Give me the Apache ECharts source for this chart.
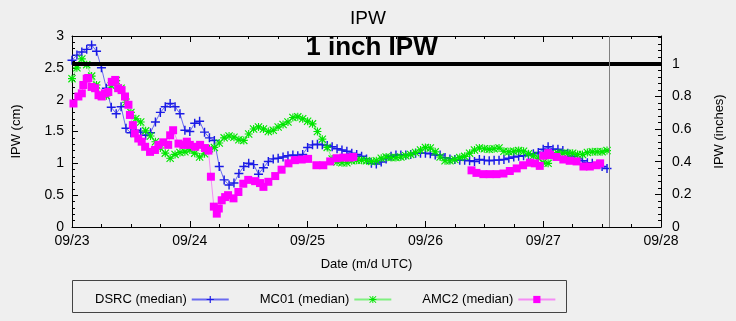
<!DOCTYPE html>
<html><head><meta charset="utf-8">
<script src="https://cdn.jsdelivr.net/npm/echarts@6/dist/echarts.min.js"></script>
<style>html,body{margin:0;padding:0;background:#efefef}#c{width:736px;height:321px}</style>
</head><body><div id="c"></div>
<script>
// x axis is hours since 09/23 00:00 UTC
const dateLabels = ['09/23','09/24','09/25','09/26','09/27','09/28'];
const seriesNames = ['DSRC (median)','MC01 (median)','AMC2 (median)'];

// hourly values starting at hour 0 (cm)
const dsrc = [2.62,2.70,2.75,2.79,2.86,2.76,2.50,2.18,1.88,1.78,
 1.89,1.55,1.48,1.52,1.49,1.44,1.48,1.65,1.80,1.89,
 1.94,1.89,1.78,1.52,1.50,1.63,1.66,1.49,1.40,1.36,
 0.95,0.74,0.66,0.69,0.84,0.95,1.00,0.98,0.83,0.93,
 1.03,1.07,1.08,1.10,1.12,1.13,1.12,1.14,1.25,1.29,
 1.30,1.29,1.28,1.26,1.23,1.21,1.19,1.16,1.14,1.11,
 1.07,1.00,0.99,1.02,1.07,1.11,1.13,1.13,1.13,1.14,
 1.16,1.16,1.16,1.15,1.13,1.13,1.09,1.07,1.06,1.05,
 1.05,1.04,1.03,1.06,1.05,1.04,1.05,1.05,1.06,1.08,
 1.10,1.11,1.12,1.13,1.15,1.17,1.22,1.26,1.22,1.22,
 1.20,1.16,1.11,1.07,1.04,1.01,1.00,0.98,0.95,0.92];

const mc01 = [2.33,2.50,2.64,2.55,2.37,2.23,2.06,2.06,2.22,2.30,
 2.18,1.96,1.80,1.70,1.65,1.51,1.43,1.34,1.24,1.16,
 1.08,1.14,1.17,1.18,1.21,1.16,1.10,1.15,1.23,1.25,
 1.32,1.40,1.43,1.41,1.37,1.36,1.46,1.54,1.57,1.54,
 1.50,1.52,1.57,1.61,1.65,1.72,1.73,1.70,1.66,1.62,
 1.50,1.38,1.25,1.07,1.02,1.01,1.01,1.04,1.05,1.05,
 1.04,1.03,1.04,1.08,1.10,1.09,1.09,1.10,1.12,1.14,
 1.17,1.21,1.25,1.24,1.18,1.10,1.04,1.04,1.06,1.09,
 1.11,1.16,1.21,1.24,1.23,1.22,1.23,1.24,1.19,1.18,
 1.19,1.20,1.19,1.15,1.12,1.08,1.01,1.00,1.14,1.16,
 1.16,1.16,1.16,1.14,1.14,1.17,1.18,1.18,1.18,1.20];

// AMC2 has irregular times (hours) and a data gap
const amc2Hours = [0.3,1.3,2.0,2.3,3.0,3.3,4.0,4.7,5.4,6.05,6.7,7.4,8.1,8.8,9.4,10.1,10.8,11.5,11.8,12.4,12.8,13.5,14.2,14.9,15.9,16.9,17.6,18.6,19.6,20.0,20.6,21.7,22.7,23.4,24.0,25.1,26.1,27.1,27.8,28.3,28.9,29.5,29.9,30.5,31.2,31.8,32.9,33.9,34.9,35.9,37.3,38.3,39.0,40.0,41.4,42.7,44.1,45.4,46.8,48.1,49.8,51.2,52.6,53.9,55.3,56.6,57.3,
 70,
 81.4,82.4,83.8,85.1,86.5,87.9,89.2,90.6,91.9,93.3,94.3,95.3,96.0,97.0,97.4,98.7,100.1,101.4,102.8,104.2,105.5,106.9,107.6];
const amc2 = [1.94,2.05,2.10,2.23,2.33,2.34,2.20,2.18,2.07,2.05,2.10,2.12,2.28,2.31,2.18,2.15,2.05,1.92,1.76,1.60,1.47,1.39,1.34,1.26,1.18,1.21,1.29,1.33,1.29,1.44,1.52,1.31,1.29,1.34,1.29,1.26,1.29,1.24,1.20,0.79,0.32,0.21,0.29,0.42,0.47,0.50,0.45,0.55,0.68,0.74,0.72,0.69,0.63,0.71,0.80,0.90,1.00,1.05,1.06,1.07,0.97,0.97,1.03,1.08,1.09,1.09,1.10,
 null,
 0.89,0.85,0.83,0.83,0.83,0.84,0.88,0.92,0.97,1.01,1.00,0.96,1.12,1.16,1.13,1.10,1.06,1.04,1.03,0.95,0.95,0.97,1.00];

const oneInch = 1;        // reference line, inches (right axis)
const nowHour = 109.5;    // vertical marker line

const FONT = '"Liberation Sans", Arial, Helvetica, sans-serif';
const plusSym = 'path://M4.2,0H5.8V4.2H10V5.8H5.8V10H4.2V5.8H0V4.2H4.2Z';
const starSym = 'path://M4.3,0H5.7V10H4.3Z M0,4.3H10V5.7H0Z M1,0L10,9L9,10L0,1Z M9,0L10,1L1,10L0,9Z';

const chart = echarts.init(document.getElementById('c'), null, {renderer:'canvas'});
const tickStyle = {color:'#000', width:1};
const axisText = {color:'#000', fontSize:14, fontFamily:FONT};

chart.setOption({
  animation:false,
  backgroundColor:'#efefef',
  title:{text:'IPW', left:'center', top:4, textStyle:{fontSize:19, fontWeight:'normal', color:'#000', fontFamily:FONT}},
  grid:{left:72, right:75, top:36, bottom:94, containLabel:false},
  xAxis:[{
    type:'value', min:0, max:120, interval:24, position:'bottom',
    axisLine:{show:true, onZero:false, lineStyle:tickStyle},
    axisTick:{show:true, inside:true, length:6, lineStyle:tickStyle},
    minorTick:{show:true, splitNumber:4, length:3, lineStyle:tickStyle},
    splitLine:{show:false},
    axisLabel:{formatter:v => dateLabels[Math.round(v/24)], margin:7, ...axisText},
    name:'Date (m/d UTC)', nameLocation:'middle', nameGap:31,
    nameTextStyle:{color:'#000', fontSize:13, fontFamily:FONT}
  },{
    type:'value', min:0, max:120, interval:24, position:'top',
    axisLine:{show:true, onZero:false, lineStyle:tickStyle},
    axisTick:{show:true, inside:true, length:6, lineStyle:tickStyle},
    minorTick:{show:true, splitNumber:4, length:3, lineStyle:tickStyle},
    splitLine:{show:false}, axisLabel:{show:false}
  }],
  yAxis:[{
    type:'value', min:0, max:3, interval:0.5, position:'left',
    axisLine:{show:true, onZero:false, lineStyle:tickStyle},
    axisTick:{show:true, inside:true, length:6, lineStyle:tickStyle},
    minorTick:{show:true, splitNumber:5, length:3, lineStyle:tickStyle},
    splitLine:{show:false},
    axisLabel:{margin:8, ...axisText},
    name:'IPW (cm)', nameLocation:'middle', nameGap:49, nameRotate:90,
    nameTextStyle:{color:'#000', fontSize:13, fontFamily:FONT}
  },{
    type:'value', min:0, max:1.17, interval:0.2, position:'right',
    axisLine:{show:true, onZero:false, lineStyle:tickStyle},
    axisTick:{show:true, inside:true, length:6, lineStyle:tickStyle},
    minorTick:{show:true, splitNumber:5, length:3, lineStyle:tickStyle},
    splitLine:{show:false},
    axisLabel:{margin:11, showMaxLabel:false, ...axisText},
    name:'IPW (inches)', nameLocation:'middle', nameGap:52, nameRotate:90,
    nameTextStyle:{color:'#000', fontSize:13, fontFamily:FONT}
  }],
  legend:{
    data:seriesNames, left:90, top:288, itemGap:30, itemWidth:37, itemHeight:9,
    align:'right', textStyle:{color:'#000', fontSize:13, fontFamily:FONT}
  },
  graphic:[
    {type:'rect', shape:{x:72.5, y:280.5, width:494, height:32}, style:{fill:'none', stroke:'#444', lineWidth:1}, z:-1},
    {type:'text', x:372, y:61, z:10, style:{text:'1 inch IPW', font:'bold 26px ' + FONT, fill:'#000', align:'center', verticalAlign:'bottom'}}
  ],
  series:[
    {name:seriesNames[0], type:'line', xAxisIndex:0, yAxisIndex:0,
     data:dsrc.map((v,i)=>[i,v]), symbol:plusSym, symbolSize:9, showAllSymbol:true,
     itemStyle:{color:'#1a1ae6'}, lineStyle:{color:'#6a6af0', width:1}},
    {name:seriesNames[1], type:'line', xAxisIndex:0, yAxisIndex:0,
     data:mc01.map((v,i)=>[i,v]), symbol:starSym, symbolSize:8, showAllSymbol:true,
     itemStyle:{color:'#00e600'}, lineStyle:{color:'#80f080', width:1}},
    {name:seriesNames[2], type:'line', xAxisIndex:0, yAxisIndex:0,
     data:amc2Hours.map((h,i)=>[h, amc2[i] === null ? '-' : amc2[i]]), symbol:'rect', symbolSize:8, showAllSymbol:true,
     connectNulls:false,
     itemStyle:{color:'#ff00ff'}, lineStyle:{color:'#f58cf5', width:1}},
    {name:'ref', type:'line', xAxisIndex:0, yAxisIndex:1, data:[], silent:true,
     markLine:{silent:true, symbol:'none', label:{show:false}, animation:false,
       data:[
         {yAxis:oneInch, lineStyle:{color:'#000', width:4, type:'solid'}},
         {xAxis:nowHour, lineStyle:{color:'#808080', width:1, type:'solid'}}
       ]}}
  ]
});
</script></body></html>
